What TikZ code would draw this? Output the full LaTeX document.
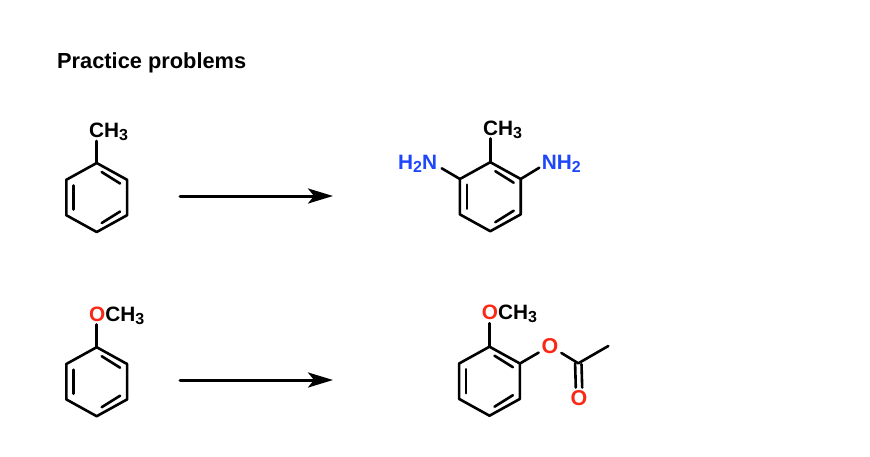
\documentclass[tikz,border=0pt]{standalone}
\usepackage{fontspec}
\setmainfont{Liberation Sans}
\usetikzlibrary{arrows.meta}
\definecolor{atomblue}{RGB}{30,70,250}
\definecolor{atomred}{RGB}{250,40,20}
\newcommand{\subn}[1]{\raisebox{-0.33ex}{\fontsize{16}{16}\selectfont #1}}
\newcommand{\benzring}[3]{%
  \begin{scope}[shift={(#2,#3)}]
    \coordinate (#1t) at (0,-34.5);
    \coordinate (#1ur) at (30.4,-17.7);
    \coordinate (#1lr) at (30.4,17.7);
    \coordinate (#1b) at (0,34.5);
    \coordinate (#1ll) at (-30.4,17.7);
    \coordinate (#1ul) at (-30.4,-17.7);
    \draw[bond] (#1t) -- (#1ur) -- (#1lr) -- (#1b) -- (#1ll) -- (#1ul) -- cycle;
    \draw[bond] (-23.4,-12) -- (-23.4,12);
    \draw[bond] (5,-25.5) -- (23.4,-14);
    \draw[bond] (5,25.5) -- (23.4,14);
  \end{scope}}
\tikzset{
  bond/.style={line width=2.6pt},
  atom/.style={inner sep=0pt,font=\bfseries\fontsize{20.8}{20.8}\selectfont,text=black},
  oatom/.style={inner sep=2.8pt,font=\bfseries\fontsize{21.5}{21.5}\selectfont,text=atomred},
  rxnarrow/.style={line width=3pt,-{Stealth[length=25pt,width=15pt,inset=6pt]}},
  title/.style={inner sep=0pt,anchor=base west,font=\bfseries\fontsize{21.8}{21.8}\selectfont}
}
\begin{document}
\begin{tikzpicture}[line cap=round,line join=round,x=1pt,y=-1pt]
  \useasboundingbox (0,0) rectangle (870,456);
  \node[title] (heading) at (57,68) {Practice problems};
  % top row
  \benzring{tol}{96.7}{197.5}
  \node[atom,anchor=base west] (tolme) at (89,137) {CH\subn{3}};
  \coordinate (tolbond) at (96.7,141);
  \draw[bond] (tolt) -- (tolbond);
  \coordinate (arrowa) at (180,196);
  \coordinate (arrowb) at (333,196);
  \draw[rxnarrow] (arrowa) -- (arrowb);
  \benzring{dia}{490.3}{196.7}
  \node[atom,anchor=base west] (diame) at (483,135) {CH\subn{3}};
  \coordinate (diabond) at (490.3,138.5);
  \draw[bond] (diat) -- (diabond);
  \node[atom,anchor=base west,text=atomblue] (nleft) at (398,169) {H\subn{2}N};
  \coordinate (nleftbond) at (441.7,168.3);
  \draw[bond] (diaul) -- (nleftbond);
  \node[atom,anchor=base west,text=atomblue] (nright) at (541.7,169) {NH\subn{2}};
  \coordinate (nrightbond) at (539.3,167.7);
  \draw[bond] (diaur) -- (nrightbond);
  % bottom row
  \benzring{ani}{96.7}{381.7}
  \node[atom,anchor=base west] (aniome) at (89,321) {\textcolor{atomred}{O}CH\subn{3}};
  \coordinate (anibond) at (96.7,324.5);
  \draw[bond] (anit) -- (anibond);
  \coordinate (arrowc) at (180,380);
  \coordinate (arrowd) at (333,380);
  \draw[rxnarrow] (arrowc) -- (arrowd);
  \benzring{pro}{489.5}{381.2}
  \node[atom,anchor=base west] (proome) at (481.7,319) {\textcolor{atomred}{O}CH\subn{3}};
  \coordinate (probond) at (489.5,323.3);
  \draw[bond] (prot) -- (probond);
  \node[oatom] (estero) at (550,346) {O};
  \coordinate (acylc) at (578.3,363.3);
  \coordinate (acylme) at (608.3,346);
  \node[oatom] (acylo) at (579,397.7) {O};
  \draw[bond] (prour) -- (estero);
  \draw[bond] (estero) -- (acylc) -- (acylme);
  \draw[bond] ([xshift=-3.2pt]acylc) -- ([xshift=-3.2pt,yshift=-0.5pt]acylo.north);
  \draw[bond] ([xshift=3.2pt,yshift=-1pt]acylc) -- ([xshift=3.2pt,yshift=-0.5pt]acylo.north);
\end{tikzpicture}
\end{document}
